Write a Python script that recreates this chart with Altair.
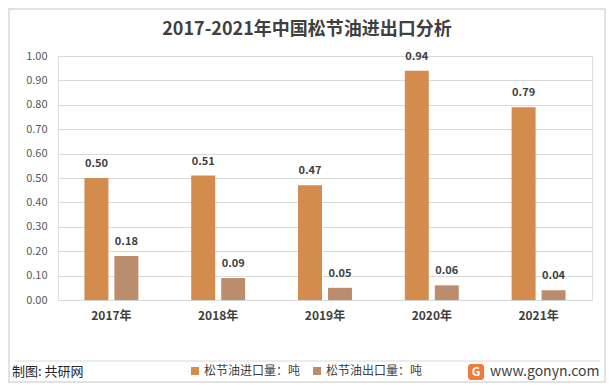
import altair as alt
import pandas as pd

years = ["2017年", "2018年", "2019年", "2020年", "2021年"]
series_names = ["松节油进口量：吨", "松节油出口量：吨"]
import_vals = [0.50, 0.51, 0.47, 0.94, 0.79]
export_vals = [0.18, 0.09, 0.05, 0.06, 0.04]
colors = ["#D38B4E", "#BA8D6D"]
y_ticks = [0.0, 0.1, 0.2, 0.3, 0.4, 0.5, 0.6, 0.7, 0.8, 0.9, 1.0]

title_text = "2017-2021年中国松节油进出口分析"
source_text = "制图: 共研网"
site_text = "www.gonyn.com"

rows = []
for i, y in enumerate(years):
    rows.append({"year": y, "series": series_names[0], "value": import_vals[i]})
    rows.append({"year": y, "series": series_names[1], "value": export_vals[i]})
df = pd.DataFrame(rows)

FONT = "Noto Sans CJK SC"

x_enc = alt.X("year:N", sort=years, title=None,
              scale=alt.Scale(paddingInner=0.495, paddingOuter=0.2475),
              axis=alt.Axis(labelAngle=0, labelFontSize=12, labelFontWeight="bold",
                            labelColor="#404040", labelPadding=10, ticks=False,
                            domain=False, grid=False, labelFont=FONT))
xoff = alt.XOffset("series:N", sort=series_names,
                   scale=alt.Scale(paddingInner=0.2, paddingOuter=0))
y_enc = alt.Y("value:Q", title=None,
              scale=alt.Scale(domain=[0, 1], nice=False),
              axis=alt.Axis(values=y_ticks, format=".2f", labelFontSize=11,
                            labelColor="#595959", labelPadding=11, ticks=False,
                            domain=False, gridColor="#D9D9D9", gridWidth=1,
                            labelOverlap=False, labelFont=FONT))
color_enc = alt.Color("series:N", sort=series_names,
                      scale=alt.Scale(domain=series_names, range=colors),
                      legend=alt.Legend(title=None, orient="none", direction="horizontal",
                                        legendX=131, legendY=309, symbolType="square",
                                        symbolSize=64, symbolStrokeWidth=0,
                                        labelFontSize=12, labelColor="#404040",
                                        labelFont=FONT, columnPadding=10,
                                        symbolOffset=0, labelOffset=3))

base = alt.Chart(df)
bars = base.mark_bar().encode(x=x_enc, xOffset=xoff, y=y_enc, color=color_enc)
labels = base.mark_text(dy=-9, baseline="bottom", fontSize=11, fontWeight="bold",
                        color="#404040", font=FONT).encode(
    x=x_enc, xOffset=xoff, y=y_enc,
    text=alt.Text("value:Q", format=".2f"))

one = pd.DataFrame({"a": [0]})
frame = alt.Chart(one).mark_rect(fillOpacity=0, stroke="#D9D9D9", strokeWidth=1.5).encode(
    x=alt.value(-49), x2=alt.value(547), y=alt.value(-47), y2=alt.value(326))
footer_line = alt.Chart(one).mark_rule(color="#D9D9D9", strokeWidth=1).encode(
    x=alt.value(-43), x2=alt.value(542), y=alt.value(305))
title = alt.Chart(one).mark_text(fontSize=18, fontWeight="bold", color="#404040",
                                 font=FONT, align="center", baseline="middle").encode(
    x=alt.value(249), y=alt.value(-26), text=alt.value(title_text))
source = alt.Chart(one).mark_text(fontSize=13, color="#262626", font=FONT,
                                  align="left", baseline="middle").encode(
    x=alt.value(-46), y=alt.value(316), text=alt.value(source_text))
logo_box = alt.Chart(one).mark_rect(fill="#F07C3A", cornerRadius=3).encode(
    x=alt.value(410), x2=alt.value(426), y=alt.value(308), y2=alt.value(324))
logo_g = alt.Chart(one).mark_text(fontSize=12, fontWeight="bold", color="white",
                                  font=FONT, align="center", baseline="middle").encode(
    x=alt.value(418), y=alt.value(316), text=alt.value("G"))
site = alt.Chart(one).mark_text(fontSize=14, color="#404040", font=FONT,
                                align="left", baseline="middle").encode(
    x=alt.value(432), y=alt.value(316), text=alt.value(site_text))

chart = alt.layer(frame, footer_line, bars, labels, title, source, logo_box, logo_g, site).properties(
    width=534, height=244,
    autosize=alt.AutoSizeParams(type="none"),
    padding={"left": 50, "top": 48, "right": 14, "bottom": 83},
).configure_view(stroke=None).configure(font=FONT, background="white")

chart.save("out.html", embed_options={"renderer": "svg", "actions": False})
